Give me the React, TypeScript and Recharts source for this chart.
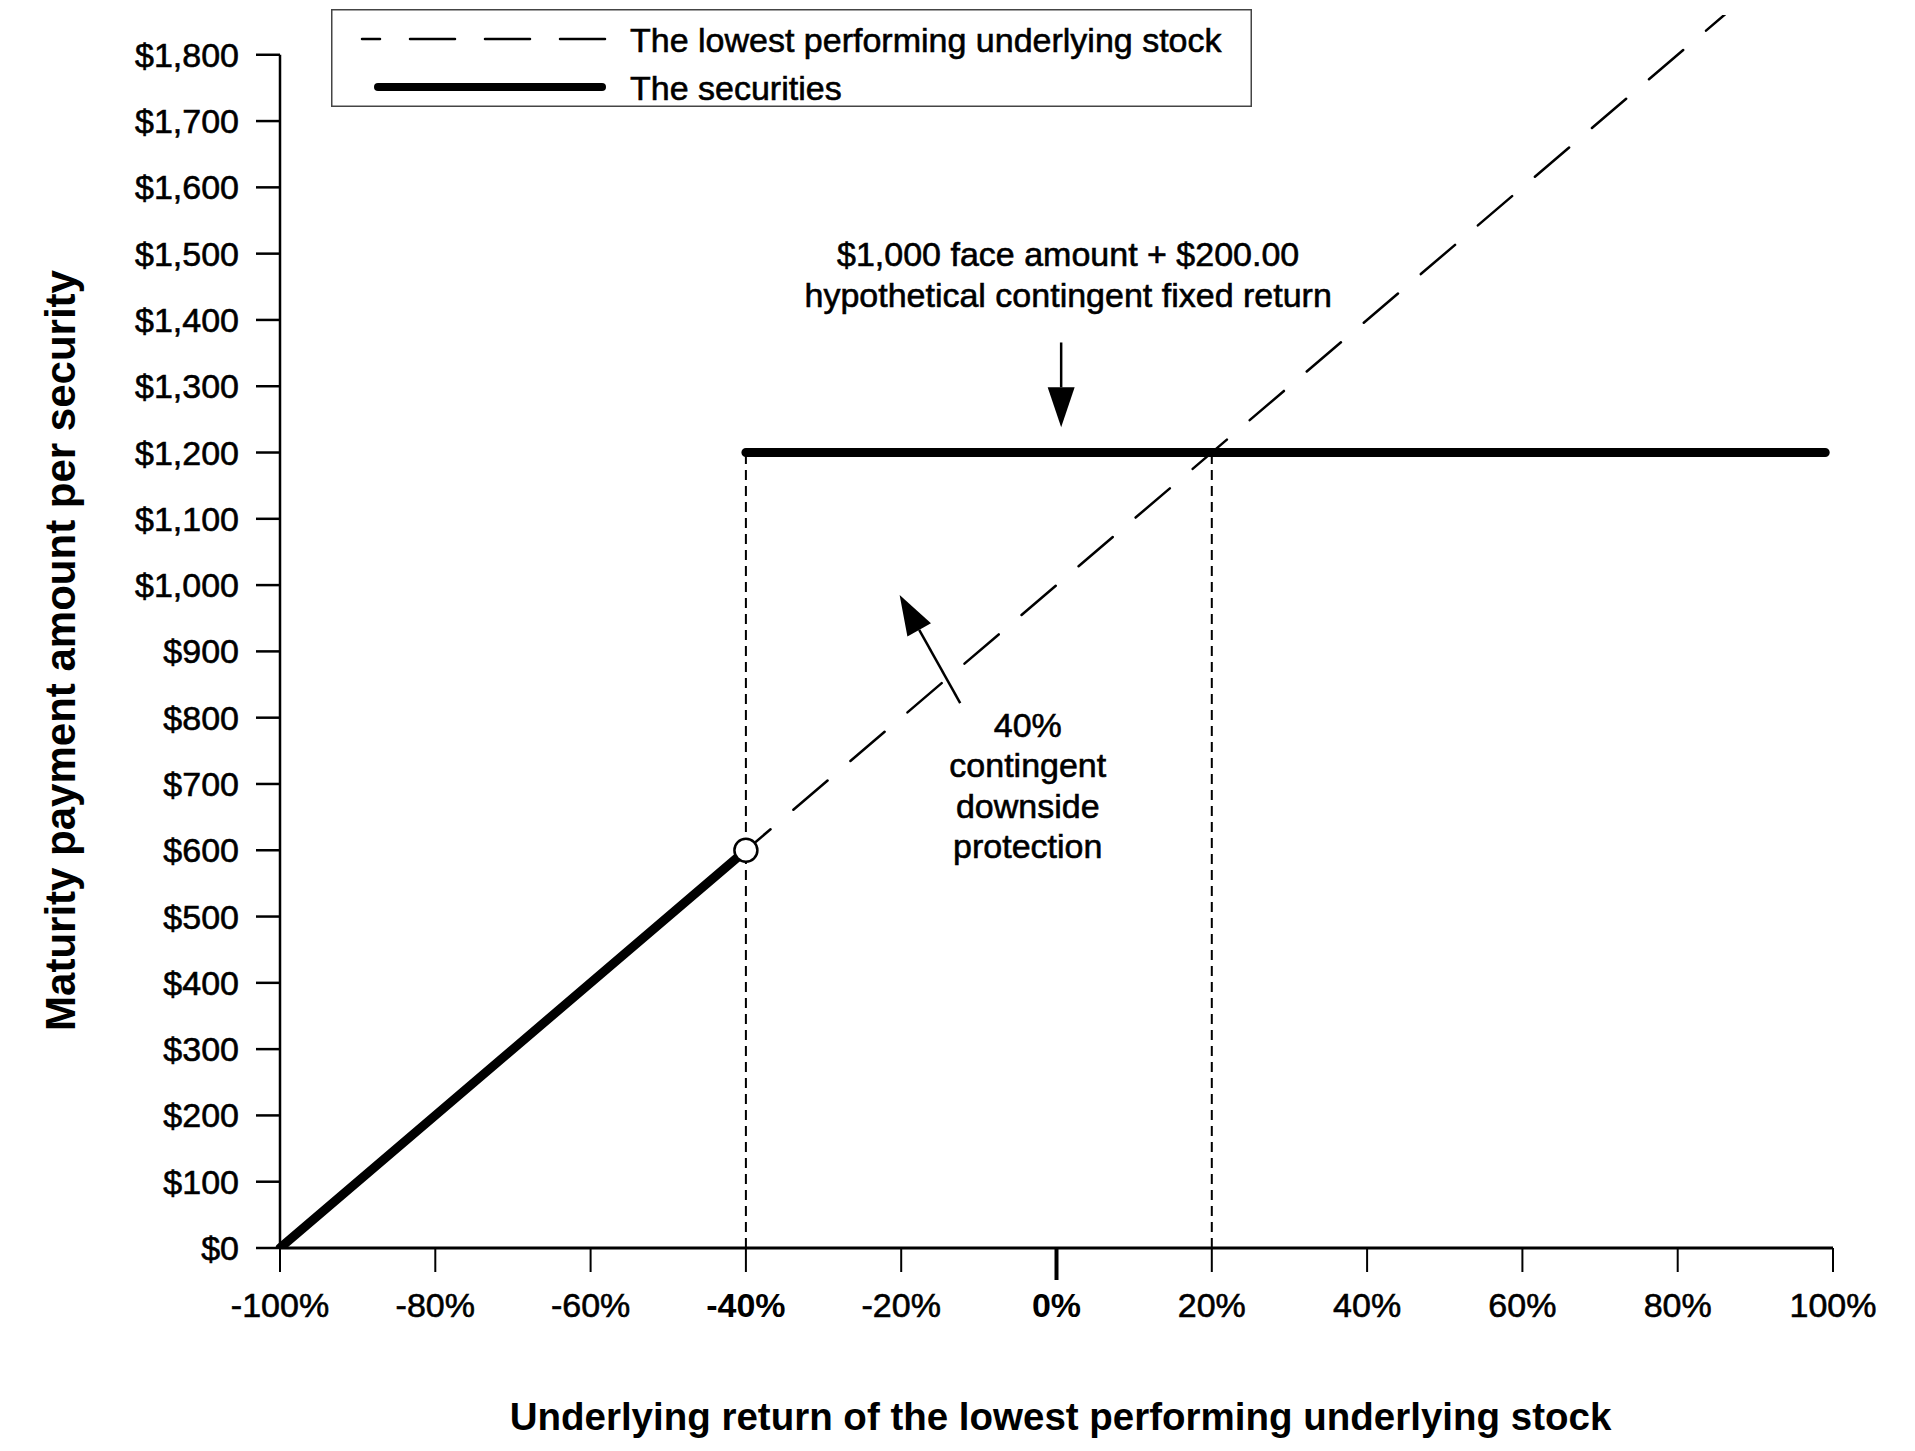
import React from "react";
import {
  LineChart,
  Line,
  XAxis,
  YAxis,
  ReferenceLine,
  ReferenceDot,
  Legend,
  Label,
} from "recharts";

const FONT = '"Liberation Sans", Arial, Helvetica, sans-serif';
// the source art renders its regular text a little heavy
const HEAVY = 0.6;

// x axis: underlying return (%), y axis: payment per security ($)
const RETURN_TICKS = [-100, -80, -60, -40, -20, 0, 20, 40, 60, 80, 100];
const BOLD_RETURN_TICKS = [-40, 0];
const PAYMENT_TICKS = [
  0, 100, 200, 300, 400, 500, 600, 700, 800, 900, 1000, 1100, 1200, 1300,
  1400, 1500, 1600, 1700, 1800,
];

const STOCK_NAME = "The lowest performing underlying stock";
const STOCK_RETURNS = [-100, 100];
const STOCK_PAYMENTS = [0, 2000];

const SECURITY_NAME = "The securities";
const SECURITY_RETURNS = [-100, -40, -40, -40, 99];
const SECURITY_PAYMENTS: (number | null)[] = [0, 600, null, 1200, 1200];

const BARRIER_RETURN = -40;
const BARRIER_PAYMENT = 600;
const CAP_RETURN = 20;
const CAP_PAYMENT = 1200;

const FIXED_RETURN_NOTE = [
  "$1,000 face amount + $200.00",
  "hypothetical contingent fixed return",
];
const PROTECTION_NOTE = ["40%", "contingent", "downside", "protection"];

const stockData = STOCK_RETURNS.map((ret, i) => ({
  ret,
  payment: STOCK_PAYMENTS[i],
}));
const securityData = SECURITY_RETURNS.map((ret, i) => ({
  ret,
  payment: SECURITY_PAYMENTS[i],
}));

const fmtPayment = (v: number) => `$${v.toLocaleString("en-US")}`;

function ReturnTick({ x, y, payload }: any) {
  const v = payload.value;
  const major = v === 0;
  const bold = BOLD_RETURN_TICKS.includes(v);
  return (
    <g>
      <line
        x1={x}
        x2={x}
        y1={y}
        y2={y + (major ? 32 : 24)}
        stroke="#000"
        strokeWidth={major ? 4 : 2}
      />
      <text
        x={x}
        y={y + 45}
        dy="0.71em"
        textAnchor="middle"
        fontFamily={FONT}
        fontSize={34}
        fontWeight={bold ? "bold" : "normal"}
        fill="#000"
        stroke={bold ? "none" : "#000"}
        strokeWidth={HEAVY}
      >
        {`${v}%`}
      </text>
    </g>
  );
}

function Arrow({ x1, y1, x2, y2 }: any) {
  const len = Math.hypot(x2 - x1, y2 - y1) || 1;
  const ux = (x2 - x1) / len;
  const uy = (y2 - y1) / len;
  const head = 40;
  const half = 13.5;
  const bx = x2 - ux * head;
  const by = y2 - uy * head;
  return (
    <g>
      <line x1={x1} y1={y1} x2={bx} y2={by} stroke="#000" strokeWidth={2.5} />
      <polygon
        points={`${x2},${y2} ${bx - uy * half},${by + ux * half} ${bx + uy * half},${by - ux * half}`}
        fill="#000"
      />
    </g>
  );
}

function Note(lines: string[], pitch: number) {
  return ({ cx, cy }: any) => (
    <text
      x={cx}
      y={cy}
      textAnchor="middle"
      fontFamily={FONT}
      fontSize={34}
      fill="#000"
      stroke="#000"
      strokeWidth={HEAVY}
    >
      {lines.map((t, i) => (
        <tspan key={i} x={cx} dy={i === 0 ? 0 : pitch}>
          {t}
        </tspan>
      ))}
    </text>
  );
}

function LegendBox({ payload }: any) {
  const items = (payload ?? []).filter((p: any) => p.type !== "none");
  return (
    <svg width={921} height={98} style={{ display: "block" }}>
      <rect
        x={0.75}
        y={0.75}
        width={919.5}
        height={96.5}
        fill="#fff"
        stroke="#444"
        strokeWidth={1.5}
      />
      {items.map((item: any, i: number) => {
        const dashed = item.value === STOCK_NAME;
        const cy = 30 + i * 48;
        return (
          <g key={item.value}>
            <line
              x1={dashed ? 31 : 47}
              x2={dashed ? 274 : 271}
              y1={cy}
              y2={cy}
              stroke="#000"
              strokeWidth={dashed ? 2.5 : 8}
              strokeDasharray={dashed ? "45 30" : undefined}
              strokeDashoffset={dashed ? 27 : undefined}
              strokeLinecap="round"
            />
            <text
              x={299}
              y={cy + 13}
              fontFamily={FONT}
              fontSize={34}
              fill="#000"
              stroke="#000"
              strokeWidth={HEAVY}
            >
              {item.value}
            </text>
          </g>
        );
      })}
    </svg>
  );
}

export default function App() {
  return (
    <div style={{ width: 1915, height: 1451, background: "#fff" }}>
      <style>{"body{margin:0}"}</style>
      <LineChart
        width={1915}
        height={1451}
        margin={{ top: 15, right: 82, bottom: 143, left: 80 }}
      >
        <XAxis
          type="number"
          dataKey="ret"
          domain={[-100, 100]}
          ticks={RETURN_TICKS}
          interval={0}
          height={60}
          stroke="#000"
          axisLine={{ stroke: "#000", strokeWidth: 3 }}
          tickLine={false}
          tickSize={0}
          tickMargin={0}
          tick={<ReturnTick />}
        >
          <Label
            content={({ viewBox }: any) => (
              <text
                x={viewBox.x + viewBox.width / 2 + 4}
                y={viewBox.y + 182}
                textAnchor="middle"
                fontFamily={FONT}
                fontSize={38.5}
                fontWeight="bold"
                fill="#000"
              >
                Underlying return of the lowest performing underlying stock
              </text>
            )}
          />
        </XAxis>
        <YAxis
          type="number"
          dataKey="payment"
          domain={[0, 1860]}
          allowDataOverflow
          ticks={PAYMENT_TICKS}
          interval={0}
          width={200}
          stroke="#000"
          axisLine={false}
          tickLine={{ stroke: "#000", strokeWidth: 2.5 }}
          tickSize={24}
          tickMargin={17}
          tickFormatter={fmtPayment}
          tick={{
            fill: "#000",
            fontSize: 34,
            fontFamily: FONT,
            stroke: "#000",
            strokeWidth: HEAVY,
          }}
        >
          <Label
            content={({ viewBox }: any) => {
              const x = viewBox.x - 5;
              const y = viewBox.y + viewBox.height / 2 + 19;
              return (
                <text
                  x={x}
                  y={y}
                  transform={`rotate(-90 ${x} ${y})`}
                  textAnchor="middle"
                  fontFamily={FONT}
                  fontSize={42}
                  fontWeight="bold"
                  fill="#000"
                >
                  Maturity payment amount per security
                </text>
              );
            }}
          />
        </YAxis>

        <Legend
          layout="horizontal"
          verticalAlign="middle"
          align="center"
          content={<LegendBox />}
          wrapperStyle={{ left: 331, top: 9, width: 921, height: 98 }}
        />

        {/* y axis line only up to the last tick */}
        <ReferenceLine
          segment={[
            { x: -100, y: 0 },
            { x: -100, y: PAYMENT_TICKS[PAYMENT_TICKS.length - 1] },
          ]}
          stroke="#000"
          strokeWidth={2.5}
        />

        <Line
          data={stockData}
          dataKey="payment"
          name={STOCK_NAME}
          type="linear"
          stroke="#000"
          strokeWidth={2.5}
          strokeDasharray="45 30"
          strokeLinecap="round"
          dot={false}
          activeDot={false}
          isAnimationActive={false}
        />

        <ReferenceLine
          segment={[
            { x: BARRIER_RETURN, y: 0 },
            { x: BARRIER_RETURN, y: CAP_PAYMENT },
          ]}
          stroke="#000"
          strokeWidth={2}
          strokeDasharray="10 6"
        />
        <ReferenceLine
          segment={[
            { x: CAP_RETURN, y: 0 },
            { x: CAP_RETURN, y: CAP_PAYMENT },
          ]}
          stroke="#000"
          strokeWidth={2}
          strokeDasharray="10 6"
        />

        <Line
          data={securityData}
          dataKey="payment"
          name={SECURITY_NAME}
          type="linear"
          stroke="#000"
          strokeWidth={9}
          strokeLinecap="round"
          connectNulls={false}
          dot={false}
          activeDot={false}
          isAnimationActive={false}
        />

        <ReferenceDot
          x={BARRIER_RETURN}
          y={BARRIER_PAYMENT}
          r={11.5}
          fill="#fff"
          stroke="#000"
          strokeWidth={2.5}
        />

        {/* annotation arrows */}
        <ReferenceLine
          segment={[
            { x: 0.6, y: 1366 },
            { x: 0.6, y: 1238 },
          ]}
          shape={<Arrow />}
        />
        <ReferenceLine
          segment={[
            { x: -12.4, y: 822 },
            { x: -20.2, y: 985 },
          ]}
          shape={<Arrow />}
        />

        <ReferenceDot
          x={1.5}
          y={1481}
          r={1}
          shape={Note(FIXED_RETURN_NOTE, 41)}
        />
        <ReferenceDot
          x={-3.7}
          y={771}
          r={1}
          shape={Note(PROTECTION_NOTE, 40.5)}
        />
      </LineChart>
    </div>
  );
}
